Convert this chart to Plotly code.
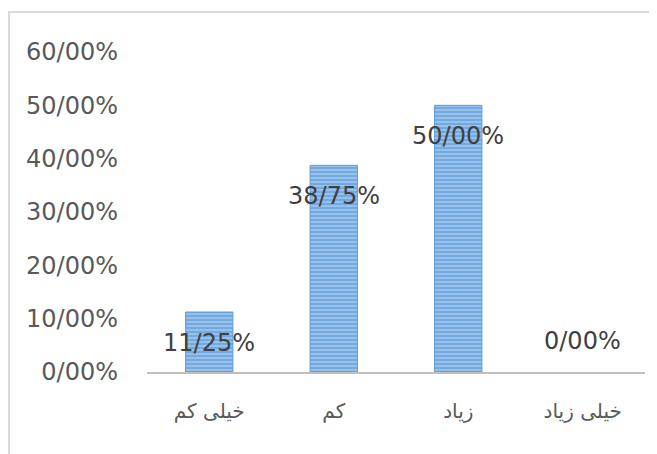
import plotly.graph_objects as go

categories = ["خیلی کم", "کم", "زیاد", "خیلی زیاد"]
values = [0.1125, 0.3875, 0.50, 0.0]
labels = ["11/25%", "38/75%", "50/00%", "0/00%"]
tick_vals = [0, 0.1, 0.2, 0.3, 0.4, 0.5, 0.6]
tick_text = ["0/00%", "10/00%", "20/00%", "30/00%", "40/00%", "50/00%", "60/00%"]

fig = go.Figure()
fig.add_trace(go.Bar(
    x=categories, y=values,
    marker=dict(
        color="#78aee3",
        line=dict(color="#5b9bd5", width=[1 if v > 0 else 0 for v in values]),
        pattern=dict(shape="-", fgcolor="#d3e6f8", bgcolor="#72a9e0", size=4, solidity=0.4),
    ),
    hoverinfo="skip",
))

for c, v, t in zip(categories, values, labels):
    fig.add_annotation(
        x=c, y=v, text=t, showarrow=False,
        yanchor="middle", yshift=(-31 if v > 0 else 31),
        font=dict(family="DejaVu Sans", size=24, color="#404040"),
    )

# outer chart frame
fig.add_shape(type="rect", xref="paper", yref="paper",
              x0=-0.277, x1=1.06, y0=-0.35, y1=1.125,
              line=dict(color="#d9d9d9", width=2), layer="below")

fig.update_layout(
    width=657, height=454,
    margin=dict(l=139, r=20, t=44, b=90),
    paper_bgcolor="white", plot_bgcolor="white",
    showlegend=False,
    bargap=0.62,
    xaxis=dict(
        showline=True, linecolor="#bfbfbf", linewidth=2,
        showgrid=False, ticks="", ticklabelstandoff=20,
        tickfont=dict(family="DejaVu Sans", size=20, color="#595959"),
    ),
    yaxis=dict(
        range=[0, 0.6], tickvals=tick_vals, ticktext=tick_text,
        showgrid=False, zeroline=False, showline=False, ticks="",
        ticklabelstandoff=28,
        tickfont=dict(family="DejaVu Sans", size=24, color="#595959"),
    ),
)

fig.write_html("out.html")
